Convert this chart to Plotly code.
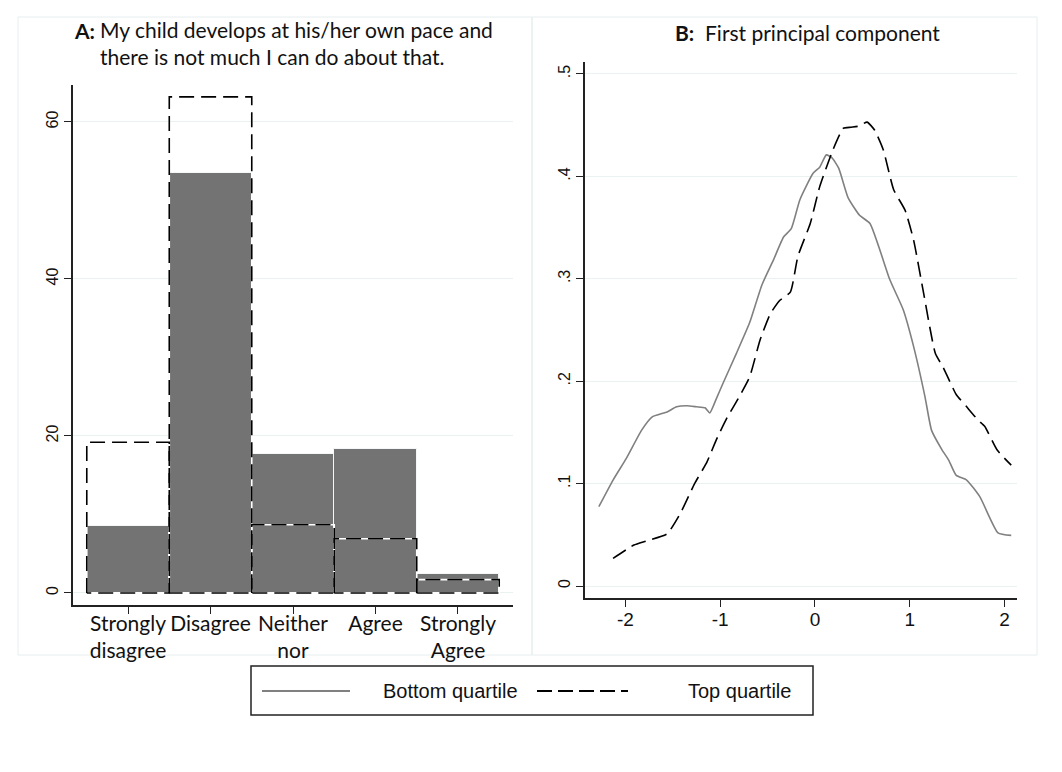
import plotly.graph_objects as go

W, H = 1062, 772

# ---------------- Data ----------------
categories = ["Strongly<br>disagree", "Disagree", "Neither<br>nor", "Agree", "Strongly<br>Agree"]
cat_pos = [1, 2, 3, 4, 5]
bottom_pct = [8.5, 53.5, 17.7, 18.3, 2.4]
top_pct = [19.2, 63.2, 8.7, 6.9, 1.7]

pc_bottom_x = [-2.28, -2.13, -1.99, -1.83, -1.72, -1.56, -1.46, -1.35, -1.25, -1.16, -1.11,
               -1.04, -0.97, -0.83, -0.69, -0.56, -0.44, -0.33, -0.25, -0.16, -0.02, 0.05,
               0.12, 0.18, 0.25, 0.35, 0.47, 0.58, 0.79, 0.93, 1.04, 1.16, 1.23, 1.34, 1.41,
               1.49, 1.60, 1.74, 1.93, 2.07]
pc_bottom_y = [0.0775, 0.1035, 0.1247, 0.152, 0.165, 0.170, 0.175, 0.176, 0.175, 0.174, 0.169,
               0.183, 0.198, 0.227, 0.257, 0.294, 0.318, 0.341, 0.349, 0.377, 0.403, 0.409,
               0.421, 0.418, 0.408, 0.379, 0.362, 0.354, 0.299, 0.270, 0.234, 0.185, 0.152,
               0.133, 0.123, 0.108, 0.1035, 0.087, 0.052, 0.0495]

pc_top_x = [-2.13, -1.91, -1.78, -1.56, -1.42, -1.27, -1.14, -1.04, -0.93, -0.81, -0.69, -0.58,
            -0.47, -0.37, -0.26, -0.18, -0.05, 0.05, 0.19, 0.30, 0.38, 0.46, 0.55, 0.63, 0.72,
            0.83, 0.95, 1.04, 1.14, 1.27, 1.35, 1.49, 1.60, 1.72, 1.79, 1.92, 2.07]
pc_top_y = [0.027, 0.040, 0.044, 0.051, 0.071, 0.100, 0.121, 0.143, 0.164, 0.183, 0.204, 0.240,
            0.266, 0.279, 0.287, 0.322, 0.354, 0.390, 0.426, 0.447, 0.448, 0.449, 0.453, 0.445,
            0.426, 0.387, 0.367, 0.338, 0.289, 0.227, 0.214, 0.187, 0.175, 0.162, 0.156, 0.133,
            0.118]

left_yticks = [0, 20, 40, 60]
right_yticks = [0, 0.1, 0.2, 0.3, 0.4, 0.5]
right_yticktext = ["0", ".1", ".2", ".3", ".4", ".5"]
right_xticks = [-2, -1, 0, 1, 2]
right_xticktext = ["-2", "-1", "0", "1", "2"]

legend_names = ["Bottom quartile", "Top quartile"]

# ---------------- Helpers ----------------
def px(x):
    return x / W

def py(y):
    return 1 - y / H

GRAY = "#737373"
LINE_GRAY = "#808080"
DASH = "15px,7px"
CAL = "Lato, Calibri, sans-serif"
ARIAL = "Liberation Sans, Arial, sans-serif"

fig = go.Figure()

# Panel A bars (bottom quartile, filled)
fig.add_trace(go.Bar(x=cat_pos, y=bottom_pct, width=1.0,
                     marker=dict(color=GRAY, line=dict(color="#f4f7f7", width=1)),
                     xaxis="x", yaxis="y", showlegend=False, hoverinfo="skip"))

# Panel A outlines (top quartile, dashed) built from data
ox, oy = [], []
for c, v in zip(cat_pos, top_pct):
    ox += [c - 0.5, c - 0.5, c + 0.5, c + 0.5, c - 0.5, None]
    oy += [0, v, v, 0, 0, None]
fig.add_trace(go.Scatter(x=ox, y=oy, mode="lines", line=dict(color="white", width=1.6),
                         xaxis="x", yaxis="y", showlegend=False, hoverinfo="skip"))
fig.add_trace(go.Scatter(x=ox, y=oy, mode="lines",
                         line=dict(color="black", width=1.6, dash=DASH),
                         xaxis="x", yaxis="y", showlegend=False, hoverinfo="skip"))

# Panel B curves
fig.add_trace(go.Scatter(x=pc_bottom_x, y=pc_bottom_y, mode="lines",
                         line=dict(color=LINE_GRAY, width=1.6, shape="spline", smoothing=0.5),
                         xaxis="x2", yaxis="y2", name=legend_names[0], showlegend=False))
fig.add_trace(go.Scatter(x=pc_top_x, y=pc_top_y, mode="lines",
                         line=dict(color="black", width=1.6, dash=DASH, shape="spline", smoothing=0.5),
                         xaxis="x2", yaxis="y2", name=legend_names[1], showlegend=False))

axis_common = dict(showline=True, linecolor="#222", linewidth=1.5, ticks="outside",
                   ticklen=7, tickwidth=1.3, tickcolor="#222", zeroline=False)

fig.update_layout(
    width=W, height=H,
    margin=dict(l=0, r=0, t=0, b=0),
    paper_bgcolor="white", plot_bgcolor="white",
    showlegend=False,
    bargap=0,
    xaxis=dict(domain=[px(73), px(513)], range=[0.333, 5.667], anchor="y",
               tickvals=cat_pos, ticktext=categories, showgrid=False, ticklabelstandoff=-8,
               tickfont=dict(family=CAL, size=21, color="#111"), **axis_common),
    yaxis=dict(domain=[py(605), py(85)], range=[-1.53, 64.71], anchor="x",
               tickvals=left_yticks, tickangle=-90, showgrid=True, gridcolor="#eaf1f1",
               gridwidth=1.3, tickfont=dict(family=ARIAL, size=16, color="#111"),
               **axis_common),
    xaxis2=dict(domain=[px(585), px(1017)], range=[-2.426, 2.131], anchor="y2",
                tickvals=right_xticks, ticktext=right_xticktext, showgrid=False,
                ticklabelstandoff=-4,
                tickfont=dict(family=ARIAL, size=19, color="#111"), **axis_common),
    yaxis2=dict(domain=[py(598), py(62)], range=[-0.0117, 0.5117], anchor="x2",
                tickvals=right_yticks, ticktext=right_yticktext, tickangle=-90,
                showgrid=True, gridcolor="#eaf1f1", gridwidth=1.3,
                tickfont=dict(family=ARIAL, size=16, color="#111"), **axis_common),
)

shapes = []
# panel frames
for x0, x1 in [(18, 532), (532, 1037)]:
    shapes.append(dict(type="rect", xref="paper", yref="paper", x0=px(x0), x1=px(x1),
                       y0=py(655), y1=py(17), line=dict(color="#e6eeee", width=1),
                       layer="below"))
# legend box and samples
shapes.append(dict(type="rect", xref="paper", yref="paper", x0=px(251), x1=px(813),
                   y0=py(715), y1=py(666), line=dict(color="#222", width=1.5)))
shapes.append(dict(type="line", xref="paper", yref="paper", x0=px(262), x1=px(350),
                   y0=py(691), y1=py(691), line=dict(color=LINE_GRAY, width=1.8)))
shapes.append(dict(type="line", xref="paper", yref="paper", x0=px(537), x1=px(628),
                   y0=py(691), y1=py(691), line=dict(color="black", width=1.8, dash="15px,6px")))
fig.update_layout(shapes=shapes)

annotations = [
    dict(text="<b>A:</b>", x=px(72), y=py(30), xanchor="left", yanchor="middle",
         font=dict(family=CAL, size=21, color="#111")),
    dict(text="My child develops at his/her own pace and<br>there is not much I can do about that.",
         x=px(98), y=py(43), xanchor="left", yanchor="middle", align="left",
         font=dict(family=CAL, size=21, color="#111")),
    dict(text="<b>B:</b>  First principal component", x=px(673), y=py(32),
         xanchor="left", yanchor="middle", font=dict(family=CAL, size=21, color="#111")),
    dict(text=legend_names[0], x=px(381), y=py(691), xanchor="left", yanchor="middle",
         font=dict(family=ARIAL, size=20, color="#111")),
    dict(text=legend_names[1], x=px(686), y=py(691), xanchor="left", yanchor="middle",
         font=dict(family=ARIAL, size=20, color="#111")),
]
for a in annotations:
    a.update(xref="paper", yref="paper", showarrow=False)
fig.update_layout(annotations=annotations)

fig.write_html("out.html", config={"displayModeBar": False},
               post_script="document.body.style.margin='0px';")
